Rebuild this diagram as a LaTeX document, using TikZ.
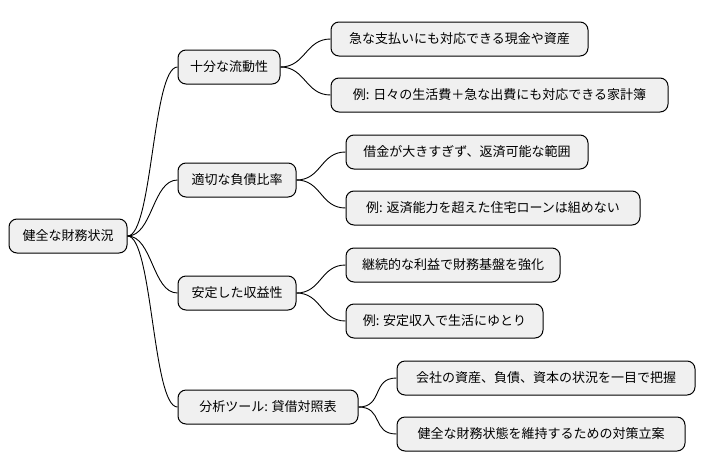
\documentclass[tikz,border=0pt]{standalone}
\usepackage{fontspec}
\setmainfont{Noto Sans CJK JP}
\begin{document}
\begin{tikzpicture}[x=1pt,y=-1pt,
  box/.style={draw=black,line width=1pt,fill=black!6,rounded corners=8pt,minimum width=#1,minimum height=34pt,inner sep=0pt,font=\fontsize{13}{15}\selectfont},
  edge/.style={draw=black,line width=0.9pt}]
\useasboundingbox (0,0) rectangle (708,471);
\node[box=118pt] (r) at (68,236) {健全な財務状況};
\node[box=102pt] (a) at (229,67) {十分な流動性};
\node[box=118pt] (b) at (237,180) {適切な負債比率};
\node[box=118pt] (c) at (237,293) {安定した収益性};
\node[box=180pt] (d) at (268,407) {分析ツール: 貸借対照表};
\node[box=257pt] (a1) at (459.5,39) {急な支払いにも対応できる現金や資産};
\node[box=337pt] (a2) at (499.5,95) {例: 日々の生活費＋急な出費にも対応できる家計簿};
\node[box=242pt] (b1) at (467,152) {借金が大きすぎず、返済可能な範囲};
\node[box=294pt] (b2) at (493,208) {例: 返済能力を超えた住宅ローンは組めない};
\node[box=214pt] (c1) at (453,265) {継続的な利益で財務基盤を強化};
\node[box=197pt] (c2) at (444.5,321) {例: 安定収入で生活にゆとり};
\node[box=298pt] (d1) at (546,378) {会社の資産、負債、資本の状況を一目で把握};
\node[box=288pt] (d2) at (541,434) {健全な財務状態を維持するための対策立案};
\foreach \p/\q in {r/a,r/b,r/c,r/d,a/a1,a/a2,b/b1,b/b2,c/c1,c/c2,d/d1,d/d2}
  \draw[edge] (\p.east) .. controls +(25,0) and +(-25,0) .. (\q.west);
\end{tikzpicture}
\end{document}
